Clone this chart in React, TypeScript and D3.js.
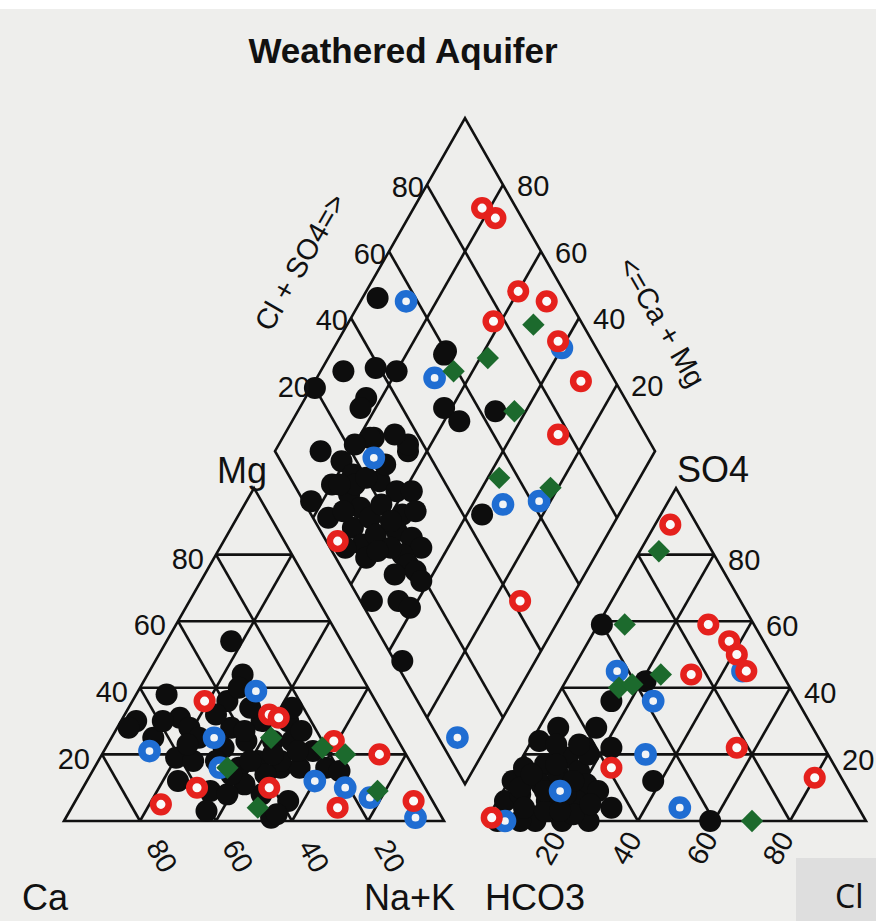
import React, { useRef, useEffect } from 'react';
import * as d3 from 'd3';

// cation triangle points: [Mg %, Na+K %]
const cationBlack = [
  [54, 17], [44, 25], [38, 8], [30, 4], [28, 3], [31, 15], [25, 11], [28, 19], [25, 23], [19, 20],
  [12, 24], [9, 34], [3, 36], [36, 25], [28, 30], [24, 36], [16, 38], [18, 42], [24, 43], [30, 44],
  [24, 48], [16, 49], [16, 54], [1, 54], [32, 24], [22, 31], [30, 37], [34, 32], [40, 26], [27, 49],
  [21, 55], [16, 61], [15, 65], [18, 48], [6, 56], [2, 55], [8, 48], [11, 42], [8, 39], [18, 25],
  [18, 31], [14, 46], [18, 40], [14, 37], [34, 43], [21, 51], [23, 21], [30, 11], [27, 34], [20, 45],
];
const cationRed = [[36, 19], [32, 38], [31, 41], [10, 30], [5, 23], [10, 49], [24, 59], [20, 73], [4, 70], [6, 89]];
const cationBlue = [[39, 31], [25, 27], [21, 12], [16, 33], [12, 60], [10, 69], [7, 77], [1, 92]];
const cationGreen = [[25, 42], [16, 35], [4, 49], [22, 57], [20, 64], [9, 78]];

// anion triangle points: [SO4 %, Cl %]
const anionBlack = [
  [59, 1], [42, 21], [36, 15], [28, 15], [28, 5], [24, 2], [22, 15], [22, 22], [12, 38], [4, 31],
  [0, 59], [12, 1], [16, 2], [17, 7], [19, 12], [15, 17], [20, 17], [11, 21], [6, 21], [6, 13],
  [2, 10], [6, 2], [0, 20], [0, 27], [23, 7], [23, 13], [8, 5], [0, 3], [11, 9], [14, 12],
  [2, 22], [5, 16], [0, 13], [9, 25], [0, 9],
  [10, 4], [14, 5], [4, 8], [3, 14], [8, 17], [12, 17], [17, 10], [3, 18], [9, 11], [5, 25],
];
const anionRed = [[89, 4], [59, 29], [54, 37], [50, 41], [45, 46], [44, 32], [22, 55], [16, 25], [13, 80], [1, 1]];
const anionBlue = [[45, 12], [36, 26], [20, 32], [4, 49], [45, 45], [9, 15], [0, 5]];
const anionGreen = [[81, 5], [59, 7], [44, 24], [40, 15], [41, 18], [0, 70]];

// diamond points: [Ca+Mg %, Cl+SO4 %]
const diamondBlack = [
  [96, 50], [99, 20], [94, 30], [86, 39], [80, 44], [84, 32], [84, 29], [76, 28], [70, 60], [70, 59],
  [62, 51], [56, 53], [48, 64], [36, 45], [88, 12], [77, 27], [65, 35], [81, 16], [80, 10], [83, 2],
  [74, 13], [69, 14], [68, 23], [62, 26], [58, 30], [76, 4], [68, 9], [65, 15], [64, 20], [57, 24],
  [54, 28], [63, 9], [61, 14], [56, 20], [51, 23], [47, 24], [60, 8], [51, 18], [48, 18], [45, 19],
  [42, 19], [52, 3], [45, 10], [41, 12], [35, 2], [80, 22], [69, 27], [76, 17], [66, 36], [59, 20], [74, 16],
  [72, 20], [78, 12], [71, 34], [73, 9], [55, 16], [50, 13], [58, 12], [67, 4],
];
const diamondRed = [[82, 91], [77, 93], [60, 88], [51, 94], [62, 77], [42, 91], [30, 91], [28, 77], [70, 3], [13, 42]];
const diamondBlue = [[88, 57], [40, 91], [69, 53], [73, 25], [32, 52], [23, 62], [9, 5]];
const diamondGreen = [[51, 87], [58, 70], [65, 59], [43, 69], [37, 55], [22, 67]];

const ticks = [20, 40, 60, 80];

const App = () => {
  const svgRef = useRef(null);
  useEffect(() => {
    const svg = d3.select(svgRef.current);
    svg.selectAll('*').remove();
    svg.attr('width', 876).attr('height', 921);
    const font = 'Liberation Sans, Arial, sans-serif';

    // paper background
    svg.append('rect').attr('width', 876).attr('height', 921).attr('fill', '#eeeeec');
    svg.append('rect').attr('width', 876).attr('height', 9).attr('fill', '#ffffff');

    const side = 380, tri = 333, gap = 42, base = 821, left0 = 64;
    const xL = d3.scaleLinear().domain([0, 100]).range([left0, left0 + side]);
    const xR = d3.scaleLinear().domain([0, 100]).range([left0 + side + gap, left0 + 2 * side + gap]);
    const yT = d3.scaleLinear().domain([0, 100]).range([base, base - tri]);
    const bx = left0 + side + gap / 2;
    const by = base - (gap / 2) * tri / (side / 2);
    const xD = d3.scaleLinear().domain([-100, 100]).range([bx - side / 2, bx + side / 2]);
    const yD = d3.scaleLinear().domain([0, 200]).range([by, by - 2 * tri]);

    const cat = (mg, na) => [xL(na + mg / 2), yT(mg)];
    const ani = (so4, cl) => [xR(cl + so4 / 2), yT(so4)];
    const dia = (ca, cl) => [xD(cl - ca), yD(cl + ca)];

    const line = d3.line();
    const grid = svg.append('g').attr('stroke', '#111').attr('stroke-width', 2.6).attr('fill', 'none');

    // outlines
    grid.append('path').attr('d', line([cat(0, 0), cat(100, 0), cat(0, 100)]) + 'Z');
    grid.append('path').attr('d', line([ani(0, 0), ani(100, 0), ani(0, 100)]) + 'Z');
    grid.append('path').attr('d', line([dia(0, 0), dia(100, 0), dia(100, 100), dia(0, 100)]) + 'Z');

    // grid lines
    const segs = [];
    ticks.forEach(k => {
      segs.push([cat(k, 0), cat(k, 100 - k)]);
      segs.push([cat(0, k), cat(100 - k, k)]);
      segs.push([cat(0, 100 - k), cat(100 - k, 0)]);
      segs.push([ani(k, 0), ani(k, 100 - k)]);
      segs.push([ani(0, k), ani(100 - k, k)]);
      segs.push([ani(0, 100 - k), ani(100 - k, 0)]);
      segs.push([dia(0, k), dia(100, k)]);
      segs.push([dia(k, 0), dia(k, 100)]);
    });
    grid.selectAll('path.grid').data(segs).join('path').attr('class', 'grid').attr('d', d => line(d));

    // markers: black, blue, red, green (drawing order as in the figure)
    const marks = svg.append('g');
    [[cationBlack, cat], [anionBlack, ani], [diamondBlack, dia]].forEach(([pts, proj]) => {
      marks.append('g').selectAll('circle').data(pts).join('circle')
        .attr('cx', d => proj(d[0], d[1])[0]).attr('cy', d => proj(d[0], d[1])[1])
        .attr('r', 11).attr('fill', '#0d0d0d');
    });
    [[cationBlue, cat], [anionBlue, ani], [diamondBlue, dia]].forEach(([pts, proj]) => {
      marks.append('g').selectAll('circle').data(pts).join('circle')
        .attr('cx', d => proj(d[0], d[1])[0]).attr('cy', d => proj(d[0], d[1])[1])
        .attr('r', 7.6).attr('fill', '#f2f4f6').attr('stroke', '#1f6dd2').attr('stroke-width', 7.5);
    });
    [[cationRed, cat], [anionRed, ani], [diamondRed, dia]].forEach(([pts, proj]) => {
      marks.append('g').selectAll('circle').data(pts).join('circle')
        .attr('cx', d => proj(d[0], d[1])[0]).attr('cy', d => proj(d[0], d[1])[1])
        .attr('r', 7.8).attr('fill', '#fafafa').attr('stroke', '#e5211d').attr('stroke-width', 6.5);
    });
    const diamondSym = d3.symbol().type(d3.symbolSquare).size(250);
    [[cationGreen, cat], [anionGreen, ani], [diamondGreen, dia]].forEach(([pts, proj]) => {
      marks.append('g').selectAll('path').data(pts).join('path')
        .attr('d', diamondSym())
        .attr('transform', d => {
          const p = proj(d[0], d[1]);
          return `translate(${p[0]},${p[1]}) rotate(45)`;
        })
        .attr('fill', '#1c6a2d');
    });

    // tick labels
    const labels = svg.append('g').attr('font-family', font).attr('font-size', 29).attr('fill', '#111');
    ticks.forEach(k => {
      const pm = cat(k, 0);
      labels.append('text').attr('x', pm[0] - 12).attr('y', pm[1] + 4).attr('dy', '0.35em')
        .attr('text-anchor', 'end').text(k);
      const ps = ani(k, 100 - k);
      labels.append('text').attr('x', ps[0] + 14).attr('y', ps[1] + 5).attr('dy', '0.35em')
        .attr('text-anchor', 'start').text(k);
      const pc = cat(0, 100 - k);
      labels.append('text').attr('transform', `translate(${pc[0] + 22},${pc[1] + 35}) rotate(60)`)
        .attr('dy', '0.35em').attr('text-anchor', 'middle').text(k);
      const pl = ani(0, k);
      labels.append('text').attr('transform', `translate(${pl[0] - 12},${pl[1] + 27}) rotate(-60)`)
        .attr('dy', '0.35em').attr('text-anchor', 'middle').text(k);
      const pu = dia(100, k);
      labels.append('text').attr('x', pu[0] - 3).attr('y', pu[1] + 2).attr('dy', '0.35em')
        .attr('text-anchor', 'end').text(k);
      const pr = dia(k, 100);
      labels.append('text').attr('x', pr[0] + 14).attr('y', pr[1] + 1).attr('dy', '0.35em')
        .attr('text-anchor', 'start').text(k);
    });

    // axis titles
    labels.append('text').attr('transform', 'translate(300,262) rotate(-60)')
      .attr('dy', '0.35em').attr('text-anchor', 'middle').text('Cl + SO4=>');
    labels.append('text').attr('transform', 'translate(662,322) rotate(60)')
      .attr('dy', '0.35em').attr('text-anchor', 'middle').text('<=Ca + Mg');

    const big = svg.append('g').attr('font-family', font).attr('font-size', 36).attr('fill', '#111');
    big.append('text').attr('x', 217).attr('y', 483).text('Mg');
    big.append('text').attr('x', 677).attr('y', 482).text('SO4');
    big.append('text').attr('x', 22).attr('y', 910).text('Ca');
    big.append('text').attr('x', 364).attr('y', 910).text('Na+K');
    big.append('text').attr('x', 485).attr('y', 910).text('HCO3');

    // grey label box in the corner
    svg.append('rect').attr('x', 796).attr('y', 858).attr('width', 80).attr('height', 63).attr('fill', '#dedede');
    svg.append('text').attr('x', 835).attr('y', 908).attr('font-family', 'Noto Sans, sans-serif')
      .attr('font-size', 32).attr('fill', '#111').text('Cl');

    svg.append('text').attr('x', 403).attr('y', 63).attr('text-anchor', 'middle')
      .attr('font-family', font).attr('font-weight', 'bold').attr('font-size', 35).attr('fill', '#111')
      .text('Weathered Aquifer');
  }, []);

  return <svg ref={svgRef} style={{ position: 'absolute', left: 0, top: 0 }} />;
};

export default App;
